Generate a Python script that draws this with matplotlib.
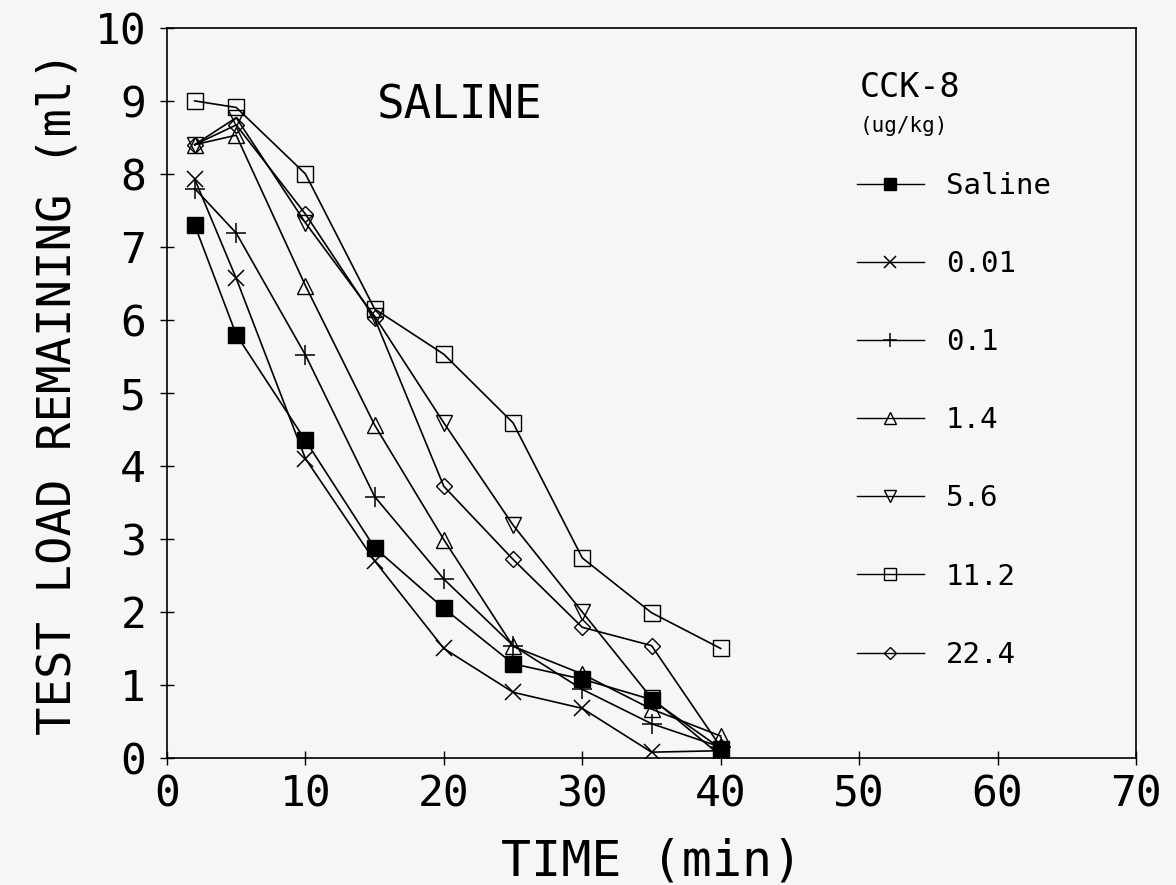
import matplotlib.pyplot as plt
from matplotlib.lines import Line2D

# sampling times (min)
times = [2, 5, 10, 15, 20, 25, 30, 35, 40]

# test load remaining (ml) per CCK-8 dose
saline = [7.3, 5.8, 4.35, 2.88, 2.05, 1.29, 1.08, 0.80, 0.13]
dose_001 = [7.93, 6.57, 4.1, 2.7, 1.5, 0.9, 0.68, 0.08, 0.1]
dose_01 = [7.8, 7.19, 5.52, 3.58, 2.45, 1.54, 0.94, 0.47, 0.15]
dose_14 = [8.4, 8.53, 6.47, 4.56, 2.99, 1.53, 1.15, 0.67, 0.30]
dose_56 = [8.4, 8.77, 7.33, 6.05, 4.59, 3.19, 2.0, 0.82, 0.03]
dose_112 = [9.0, 8.91, 8.0, 6.15, 5.53, 4.59, 2.74, 1.99, 1.50]
dose_224 = [8.4, 8.67, 7.45, 6.02, 3.72, 2.72, 1.79, 1.54, 0.15]

labels = ['Saline', '0.01', '0.1', '1.4', '5.6', '11.2', '22.4']

FONT = 'DejaVu Sans Mono'
PAPER = '#f6f6f4'

plt.rcParams['font.family'] = FONT

fig = plt.figure(figsize=(11.76, 8.85), dpi=100, facecolor=PAPER)
ax = fig.add_axes([0.142, 0.1435, 0.824, 0.825])
ax.set_facecolor(PAPER)

series = [saline, dose_001, dose_01, dose_14, dose_56, dose_112, dose_224]
styles = [
    dict(marker='s', ms=11, mfc='black'),
    dict(marker='x', ms=12, mfc='none', mew=1.1),
    dict(marker='+', ms=14, mfc='none', mew=1.1),
    dict(marker='^', ms=12, mfc='none'),
    dict(marker='v', ms=12, mfc='none'),
    dict(marker='s', ms=12, mfc='none'),
    dict(marker='D', ms=8, mfc='none'),
]

for vals, st in zip(series, styles):
    ax.plot(times, vals, color='black', lw=1.2, mec='black', **st)

# legend drawn with smaller symbols
handles = []
for lab, st in zip(labels, styles):
    s = dict(st)
    s['ms'] = st['ms'] * 0.75
    handles.append(Line2D([0], [0], color='black', lw=1.0, mec='black', label=lab, **s))
leg = ax.legend(handles=handles, loc='upper left', bbox_to_anchor=(0.712, 0.803),
                frameon=False, fontsize=21, handlelength=2.3, handletextpad=0.75,
                labelspacing=1.72, borderpad=0, borderaxespad=0)

ax.text(0.715, 0.918, 'CCK-8', transform=ax.transAxes, fontsize=24,
        va='center', ha='left')
ax.text(0.715, 0.866, '(ug/kg)', transform=ax.transAxes, fontsize=15,
        va='center', ha='left')
ax.text(0.302, 0.893, 'SALINE', transform=ax.transAxes, fontsize=33,
        va='center', ha='center')

ax.set_xlim(0, 70)
ax.set_ylim(0, 10)
ax.set_xticks(range(0, 71, 10))
ax.set_yticks(range(0, 11))
ax.tick_params(direction='inout', length=10, width=1, labelsize=31, pad=10)
ax.tick_params(axis='x', pad=6)
for sp in ax.spines.values():
    sp.set_linewidth(1.2)

ax.set_xlabel('TIME (min)', fontsize=36, labelpad=16)
ax.set_ylabel('TEST LOAD REMAINING (ml)', fontsize=34, labelpad=10)

fig.savefig('out.png', dpi=100, facecolor=PAPER)
